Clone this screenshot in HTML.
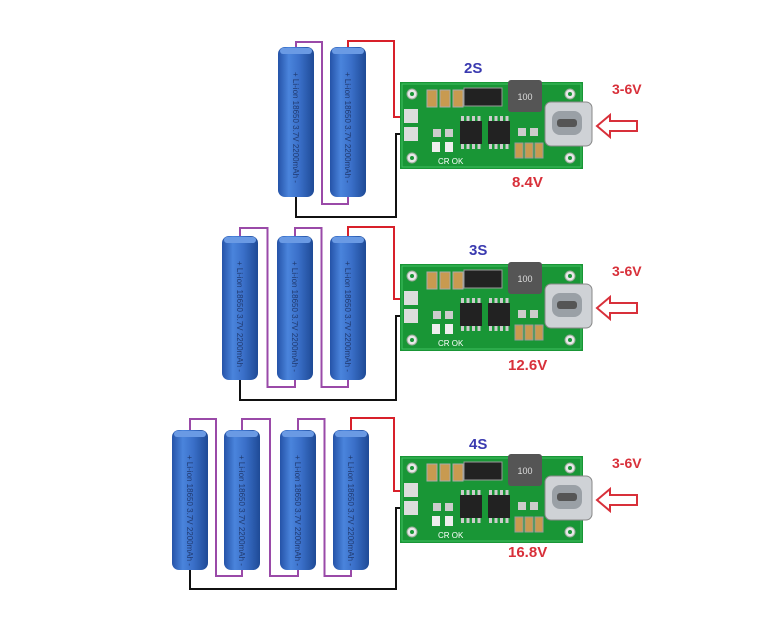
<!DOCTYPE html>
<html><head><meta charset="utf-8"><style>
html,body{margin:0;padding:0;background:#fff;width:759px;height:618px;overflow:hidden}
svg{display:block}
</style></head><body>
<svg id="s" width="759" height="618" viewBox="0 0 759 618" xmlns="http://www.w3.org/2000/svg">
<defs>
<linearGradient id="bat" x1="0" x2="1">
<stop offset="0" stop-color="#2553a8"/><stop offset="0.3" stop-color="#4a84dc"/><stop offset="0.6" stop-color="#3a6fc8"/><stop offset="1" stop-color="#1e4a96"/>
</linearGradient>
</defs>
</svg>
<script>
var s=document.getElementById('s'),h='';
function bat(x,y1,y2){var w=36;
h+='<rect x="'+x+'" y="'+y1+'" width="'+w+'" height="'+(y2-y1)+'" rx="7" fill="url(#bat)"/>';
h+='<rect x="'+(x+2)+'" y="'+(y1+1)+'" width="'+(w-4)+'" height="6" rx="3" fill="#6a9ae4"/>';
h+='<text transform="translate('+(x+w/2-3)+','+(y1+25)+') rotate(90)" font-family="Liberation Sans,sans-serif" font-size="8" fill="#203a70">+ Li-ion 18650 3.7V 2200mAh -</text>';}
function board(y){var x=400;
h+='<rect x="'+x+'" y="'+y+'" width="183" height="87" fill="#199636"/>';
h+='<rect x="'+(x+2)+'" y="'+(y+2)+'" width="179" height="83" fill="none" stroke="#3fc060" stroke-width="1"/>';
[[x+12,y+12],[x+12,y+76],[x+170,y+12],[x+170,y+76]].forEach(function(p){h+='<circle cx="'+p[0]+'" cy="'+p[1]+'" r="5" fill="#e8e8e8" stroke="#9a9" /><circle cx="'+p[0]+'" cy="'+p[1]+'" r="2" fill="#199636"/>';});
h+='<rect x="'+(x+4)+'" y="'+(y+27)+'" width="14" height="14" fill="#ddd"/><rect x="'+(x+4)+'" y="'+(y+45)+'" width="14" height="14" fill="#ddd"/>';
for(var i=0;i<3;i++)h+='<rect x="'+(x+27+i*13)+'" y="'+(y+8)+'" width="10" height="17" fill="#c89a50" stroke="#aaa"/>';
h+='<rect x="'+(x+64)+'" y="'+(y+6)+'" width="38" height="18" fill="#222" stroke="#999"/>';
h+='<rect x="'+(x+108)+'" y="'+(y-2)+'" width="34" height="32" rx="3" fill="#555"/><text x="'+(x+125)+'" y="'+(y+18)+'" text-anchor="middle" font-family="Liberation Sans,sans-serif" font-size="9" fill="#ddd">100</text>';
h+='<rect x="'+(x+60)+'" y="'+(y+39)+'" width="22" height="23" fill="#222"/><rect x="'+(x+88)+'" y="'+(y+39)+'" width="22" height="23" fill="#222"/>';
for(var i=0;i<4;i++){h+='<rect x="'+(x+61+i*5.5)+'" y="'+(y+34)+'" width="3" height="5" fill="#ccc"/><rect x="'+(x+61+i*5.5)+'" y="'+(y+62)+'" width="3" height="5" fill="#ccc"/><rect x="'+(x+89+i*5.5)+'" y="'+(y+34)+'" width="3" height="5" fill="#ccc"/><rect x="'+(x+89+i*5.5)+'" y="'+(y+62)+'" width="3" height="5" fill="#ccc"/>';}
h+='<rect x="'+(x+33)+'" y="'+(y+47)+'" width="8" height="8" fill="#ccc"/><rect x="'+(x+45)+'" y="'+(y+47)+'" width="8" height="8" fill="#ccc"/>';
h+='<rect x="'+(x+32)+'" y="'+(y+60)+'" width="8" height="10" fill="#eee"/><rect x="'+(x+45)+'" y="'+(y+60)+'" width="8" height="10" fill="#eee"/>';
for(var i=0;i<3;i++)h+='<rect x="'+(x+115+i*10)+'" y="'+(y+61)+'" width="8" height="15" fill="#c89a50" stroke="#999"/>';
h+='<rect x="'+(x+118)+'" y="'+(y+46)+'" width="8" height="8" fill="#ccc"/><rect x="'+(x+130)+'" y="'+(y+46)+'" width="8" height="8" fill="#ccc"/>';
h+='<rect x="'+(x+145)+'" y="'+(y+20)+'" width="47" height="44" rx="6" fill="#cfd2d6" stroke="#888"/><rect x="'+(x+152)+'" y="'+(y+29)+'" width="30" height="24" rx="8" fill="#9aa0a6"/><rect x="'+(x+157)+'" y="'+(y+37)+'" width="20" height="8" rx="3" fill="#555"/>';
h+='<text x="'+(x+38)+'" y="'+(y+82)+'" font-family="Liberation Sans,sans-serif" font-size="8" fill="#fff">CR  OK</text>';
h+='<text x="612" y="'+(y+12)+'" font-family="Liberation Sans,sans-serif" font-weight="bold" font-size="14" fill="#d8303a">3-6V</text>';
var ay=y+44;
h+='<path d="M597 '+ay+' L610 '+(ay-11)+' L610 '+(ay-5)+' L637 '+(ay-5)+' L637 '+(ay+5)+' L610 '+(ay+5)+' L610 '+(ay+11)+' Z" fill="#fff" stroke="#d8303a" stroke-width="2"/>';}
function sec(xs,y1,y2,by,wt,wb){
var c=[];xs.forEach(function(x){c.push(x+18);});
for(var i=0;i<xs.length-1;i++){var g=xs[i]+36+(xs[i+1]-xs[i]-36)/2;
h+='<polyline points="'+c[i]+','+y1+' '+c[i]+','+wt+' '+g+','+wt+' '+g+','+wb+' '+c[i+1]+','+wb+' '+c[i+1]+','+y2+'" fill="none" stroke="#9a4aa8" stroke-width="2"/>';}
var l=c[c.length-1];
h+='<polyline points="'+l+','+y1+' '+l+','+(wt-1)+' 394,'+(wt-1)+' 394,'+(by+35)+' 410,'+(by+35)+'" fill="none" stroke="#d8202a" stroke-width="2"/>';
h+='<polyline points="'+c[0]+','+y2+' '+c[0]+','+(wb+13)+' 396,'+(wb+13)+' 396,'+(by+52)+' 410,'+(by+52)+'" fill="none" stroke="#111" stroke-width="2"/>';
xs.forEach(function(x){bat(x,y1,y2);});
board(by);}
sec([278,330],47,197,82,42,204);
sec([222,277,330],236,380,264,228,387);
sec([172,224,280,333],430,570,456,419,576);
s.insertAdjacentHTML('beforeend',h);
</script>
<div style="position:absolute;left:0;top:0;width:759px;height:618px;pointer-events:none;font-family:'Liberation Sans',sans-serif;font-weight:bold">
<div style="position:absolute;left:464px;top:60px;font-size:15px;color:#3a3ab0">2S</div>
<div style="position:absolute;left:469px;top:242px;font-size:15px;color:#3a3ab0">3S</div>
<div style="position:absolute;left:469px;top:436px;font-size:15px;color:#3a3ab0">4S</div>
<div style="position:absolute;left:512px;top:174px;font-size:15px;color:#d8303a">8.4V</div>
<div style="position:absolute;left:508px;top:357px;font-size:15px;color:#d8303a">12.6V</div>
<div style="position:absolute;left:508px;top:544px;font-size:15px;color:#d8303a">16.8V</div>
</div>
</body></html>
